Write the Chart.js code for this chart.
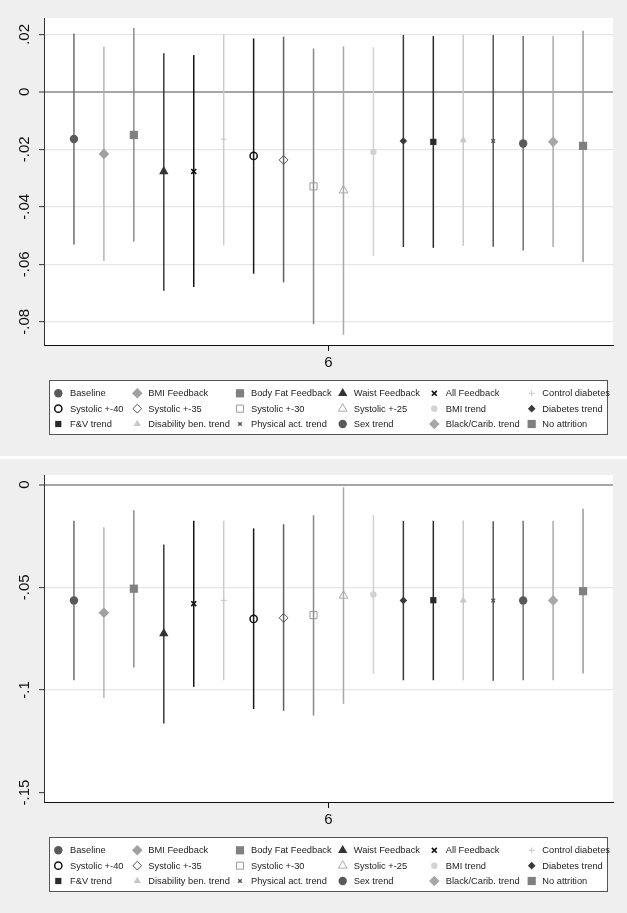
<!DOCTYPE html>
<html>
<head>
<meta charset="utf-8">
<script src="https://cdn.jsdelivr.net/npm/chart.js@4.4.1/dist/chart.umd.min.js"></script>
<style>
  body { margin: 0; background: #fff; }
  canvas { display: block; background: #efefef; }
  #bottomChart { margin-top: 3px; }
</style>
</head>
<body>
<canvas id="topChart" width="627" height="456"></canvas>
<canvas id="bottomChart" width="627" height="454"></canvas>
<script>
const series = ['Baseline', 'BMI Feedback', 'Body Fat Feedback', 'Waist Feedback', 'All Feedback', 'Control diabetes',
  'Systolic +-40', 'Systolic +-35', 'Systolic +-30', 'Systolic +-25', 'BMI trend', 'Diabetes trend',
  'F&V trend', 'Disability ben. trend', 'Physical act. trend', 'Sex trend', 'Black/Carib. trend', 'No attrition'];
const xLabels = ['6'];

// top panel: estimate and 95% CI
const topEst = [-0.0164, -0.0216, -0.0150, -0.0277, -0.0277, -0.0165, -0.0223, -0.0237, -0.0329,
  -0.0343, -0.0209, -0.0171, -0.0174, -0.0168, -0.0171, -0.0180, -0.0174, -0.0188];
const topLo = [-0.0531, -0.0589, -0.0521, -0.0692, -0.0679, -0.0534, -0.0633, -0.0663, -0.0809,
  -0.0845, -0.0572, -0.0540, -0.0543, -0.0536, -0.0539, -0.0552, -0.0540, -0.0592];
const topHi = [0.0203, 0.0157, 0.0222, 0.0134, 0.0128, 0.0201, 0.0186, 0.0192, 0.0151,
  0.0159, 0.0155, 0.0198, 0.0194, 0.0198, 0.0198, 0.0194, 0.0194, 0.0213];
const topTicks = [-0.08, -0.06, -0.04, -0.02, 0, 0.02];
const topTickLabels = ['-.08', '-.06', '-.04', '-.02', '0', '.02'];

// bottom panel
const botEst = [-0.0564, -0.0624, -0.0507, -0.0725, -0.0580, -0.0564, -0.0654, -0.0649, -0.0636,
  -0.0541, -0.0535, -0.0564, -0.0563, -0.0564, -0.0564, -0.0564, -0.0564, -0.0519];
const botLo = [-0.0953, -0.1039, -0.0891, -0.1164, -0.0985, -0.0953, -0.1093, -0.1102, -0.1125,
  -0.1068, -0.0922, -0.0953, -0.0953, -0.0953, -0.0955, -0.0953, -0.0953, -0.0920];
const botHi = [-0.0176, -0.0208, -0.0125, -0.0291, -0.0176, -0.0176, -0.0213, -0.0193, -0.0149,
  -0.0013, -0.0148, -0.0176, -0.0176, -0.0174, -0.0178, -0.0176, -0.0176, -0.0117];
const botTicks = [-0.15, -0.1, -0.05, 0];
const botTickLabels = ['-.15', '-.1', '-.05', '0'];

// marker look per series
const styles = [
  {shape: 'circle', r: 4.2, color: '#595959', line: '#6e6e6e'},
  {shape: 'rectRot', r: 5.3, color: '#a0a0a0', line: '#b4b4b4'},
  {shape: 'rect', r: 5.8, color: '#808080', line: '#8c8c8c'},
  {shape: 'triangle', r: 5.4, color: '#333333', line: '#3a3a3a'},
  {shape: 'crossRot', r: 3.5, color: '#111111', line: '#111111', bw: 1.6},
  {shape: 'cross', r: 3, color: '#c8c8c8', line: '#cccccc', bw: 1},
  {shape: 'circle', r: 3.6, color: '#111111', line: '#1a1a1a', bw: 1.5, hollow: true},
  {shape: 'rectRot', r: 4.4, color: '#555555', line: '#606060', bw: 1, hollow: true},
  {shape: 'rect', r: 5, color: '#9a9a9a', line: '#8a8a8a', bw: 1, hollow: true},
  {shape: 'triangle', r: 5, color: '#aaaaaa', line: '#aaaaaa', bw: 1, hollow: true},
  {shape: 'circle', r: 3.2, color: '#d2d2d2', line: '#d0d0d0'},
  {shape: 'rectRot', r: 3.8, color: '#3a3a3a', line: '#3a3a3a'},
  {shape: 'rect', r: 4.4, color: '#2a2a2a', line: '#2a2a2a'},
  {shape: 'triangle', r: 4.2, color: '#c8c8c8', line: '#c8c8c8'},
  {shape: 'crossRot', r: 2.5, color: '#555555', line: '#555555', bw: 1.4},
  {shape: 'circle', r: 4.2, color: '#595959', line: '#707070'},
  {shape: 'rectRot', r: 5.3, color: '#a8a8a8', line: '#ababab'},
  {shape: 'rect', r: 5.8, color: '#808080', line: '#9a9a9a'}
];

Chart.defaults.font.family = '"Liberation Sans", Arial, sans-serif';

const markX = [58.3, 137.3, 240, 342.7, 434.3, 531.7];
const textX = [70, 148.3, 251, 353.7, 445.7, 542.3];

function markerOpts(st) {
  return {pointStyle: st.shape, radius: st.r, borderWidth: st.bw || 0, rotation: 0};
}

const plotBg = {
  id: 'plotBg',
  beforeDraw(chart) {
    const {ctx, chartArea: a} = chart;
    ctx.save();
    ctx.fillStyle = '#fff';
    ctx.fillRect(a.left, a.top, a.right - a.left, a.bottom - a.top);
    ctx.restore();
  }
};

// stata-like 6 column legend box under the plot
const boxLegend = {
  id: 'boxLegend',
  afterDraw(chart, args, opts) {
    const ctx = chart.ctx;
    const top = opts.top;
    ctx.save();
    ctx.fillStyle = '#fff';
    ctx.fillRect(49.5, top + 0.5, 558, 54);
    ctx.strokeStyle = '#555';
    ctx.lineWidth = 1;
    ctx.strokeRect(49.5, top + 0.5, 558, 54);
    ctx.font = '9.3px "Liberation Sans", Arial, sans-serif';
    ctx.textBaseline = 'middle';
    series.forEach((name, i) => {
      const col = i % 6, row = Math.floor(i / 6);
      const y = top + 13.3 + row * 15.35;
      const st = styles[i];
      ctx.fillStyle = st.hollow ? 'rgba(0,0,0,0)' : st.color;
      ctx.strokeStyle = st.color;
      ctx.lineWidth = st.bw || 0;
      Chart.helpers.drawPoint(ctx, markerOpts(st), markX[col], y);
      ctx.fillStyle = '#222';
      ctx.fillText(name, textX[col], y + 0.5);
    });
    ctx.restore();
  }
};

function buildDatasets(est, lo, hi) {
  const ds = [];
  series.forEach((name, i) => {
    const st = styles[i];
    ds.push({
      type: 'line', label: name + ' CI',
      data: [{x: i + 1, y: lo[i]}, {x: i + 1, y: hi[i]}],
      borderColor: st.line, borderWidth: 1.5, pointRadius: 0, order: 1
    });
    ds.push({
      type: 'scatter', label: name,
      data: [{x: i + 1, y: est[i]}],
      pointStyle: st.shape, pointRadius: st.r, pointHoverRadius: st.r,
      pointBackgroundColor: st.hollow ? 'rgba(0,0,0,0)' : st.color,
      pointBorderColor: st.color, pointBorderWidth: st.bw || 0, order: 0
    });
  });
  return ds;
}

function makeChart(id, est, lo, hi, tickVals, tickText, yMin, yMax, padTop, legendTop, noGrid) {
  return new Chart(document.getElementById(id), {
    type: 'scatter',
    data: {datasets: buildDatasets(est, lo, hi)},
    options: {
      responsive: false,
      animation: false,
      events: [],
      layout: {padding: {left: 0, right: 14, top: padTop, bottom: 81}},
      plugins: {
        legend: {display: false},
        tooltip: {enabled: false},
        boxLegend: {top: legendTop}
      },
      scales: {
        x: {
          type: 'linear', min: 0, max: series.length + 1,
          afterBuildTicks: s => { s.ticks = [{value: (series.length + 1) / 2}]; },
          afterFit: s => { s.height = 30; },
          ticks: {callback: () => xLabels[0], color: '#111', font: {size: 15}, padding: 3, autoSkip: false, maxRotation: 0},
          grid: {drawOnChartArea: false, tickLength: 6, tickColor: '#111', tickWidth: 1},
          border: {color: '#111', width: 1}
        },
        y: {
          min: yMin, max: yMax,
          afterBuildTicks: s => { s.ticks = tickVals.map(v => ({value: v})); },
          afterFit: s => { s.width = 44; },
          ticks: {
            callback: (v, i) => tickText[i], minRotation: 90, maxRotation: 90,
            crossAlign: 'center', padding: 1, font: {size: 15}, color: '#111', autoSkip: false
          },
          grid: {
            color: c => c.tick && c.tick.value === 0 ? '#a6a6a6' :
              (c.tick && noGrid.includes(c.tick.value) ? 'rgba(0,0,0,0)' : '#e6e6e6'),
            lineWidth: c => c.tick && c.tick.value === 0 ? 2 : 1.3,
            tickLength: 5, tickColor: '#333', tickWidth: 1
          },
          border: {color: '#333', width: 1}
        }
      }
    },
    plugins: [plotBg, boxLegend]
  });
}

makeChart('topChart', topEst, topLo, topHi, topTicks, topTickLabels, -0.0881, 0.0257, 18, 380, []);
makeChart('bottomChart', botEst, botLo, botHi, botTicks, botTickLabels, -0.1546, 0.0047, 16, 378, [-0.15]);
</script>
</body>
</html>
